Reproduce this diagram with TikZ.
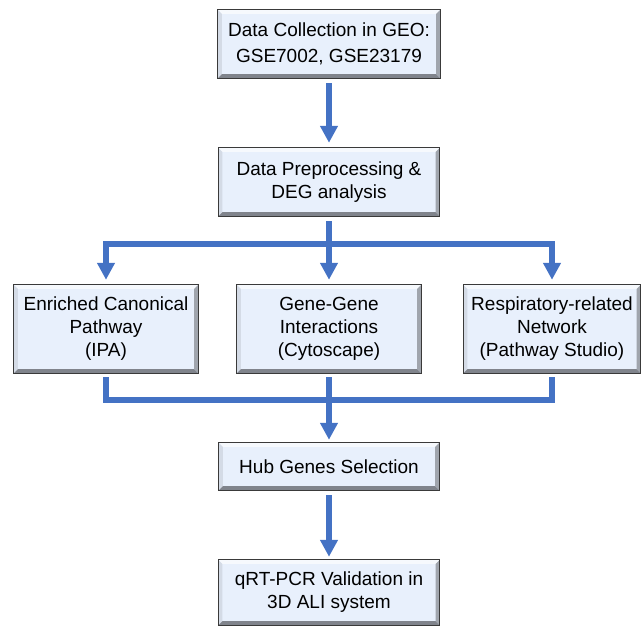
\documentclass[tikz,border=0pt]{standalone}
\usepackage{fontspec}
\setmainfont{Liberation Sans}
\usetikzlibrary{arrows.meta,calc}
\definecolor{boxfill}{RGB}{232,240,252}
\definecolor{bevT}{RGB}{246,249,253}
\definecolor{bevL}{RGB}{212,219,230}
\definecolor{bevR}{RGB}{160,165,173}
\definecolor{bevB}{RGB}{128,132,140}
\definecolor{bord}{RGB}{58,58,58}
\definecolor{flow}{RGB}{68,114,196}
\tikzset{
  flowbox/.style={fill=boxfill, draw=none, align=center, inner sep=0pt,
    font=\fontsize{19}{23}\selectfont},
  conn/.style={draw=flow, line width=6pt, line join=miter},
  arr/.style={conn, -{Triangle[width=17pt,length=17pt]}},
}
\newcommand\bev[1]{%
  \fill[bevT] (#1.north west) -- (#1.north east) -- ($(#1.north east)+(-4,4)$) -- ($(#1.north west)+(4,4)$) -- cycle;
  \fill[bevL] (#1.north west) -- ($(#1.north west)+(4,4)$) -- ($(#1.south west)+(4,-4)$) -- (#1.south west) -- cycle;
  \fill[bevR] (#1.north east) -- ($(#1.north east)+(-4,4)$) -- ($(#1.south east)+(-4,-4)$) -- (#1.south east) -- cycle;
  \fill[bevB] (#1.south west) -- ($(#1.south west)+(4,-4)$) -- ($(#1.south east)+(-4,-4)$) -- (#1.south east) -- cycle;
  \draw[bord, line width=1.3pt] (#1.north west) rectangle (#1.south east);
}
\begin{document}
\begin{tikzpicture}[x=1pt,y=-1pt]
\useasboundingbox (0,0) rectangle (641,627);
\node[flowbox, minimum width=222pt, minimum height=68pt, font=\fontsize{19}{26}\selectfont] (n1) at (329,44) {Data Collection in GEO:\\GSE7002, GSE23179};
\node[flowbox, minimum width=221pt, minimum height=68pt] (n2) at (329,182) {Data Preprocessing \&\\DEG analysis};
\node[flowbox, minimum width=184pt, minimum height=88pt] (a) at (106,329) {Enriched Canonical\\Pathway\\(IPA)};
\node[flowbox, minimum width=184pt, minimum height=88pt] (b) at (329,329) {Gene-Gene\\Interactions\\(Cytoscape)};
\node[flowbox, minimum width=177pt, minimum height=88pt] (c) at (552,329) {Respiratory-related\\Network\\(Pathway Studio)};
\node[flowbox, minimum width=220pt, minimum height=47pt] (hub) at (329,466.5) {Hub Genes Selection};
\node[flowbox, minimum width=221pt, minimum height=65pt] (q) at (329,592.5) {qRT-PCR Validation in\\3D ALI system};
\bev{n1}\bev{n2}\bev{a}\bev{b}\bev{c}\bev{hub}\bev{q}
\coordinate (j1) at (329,244);
\coordinate (j2) at (329,400);
\draw[arr, shorten <=5pt, shorten >=5pt] (n1) -- (n2);
\draw[conn, shorten <=5pt] (n2.south) -- (j1);
\draw[arr, shorten >=5pt] (j1) -| (a.north);
\draw[arr, shorten >=5pt] (j1) -| (c.north);
\draw[arr, shorten >=5pt] (j1) -- (b.north);
\draw[conn, shorten <=4pt] (a.south) |- (j2);
\draw[conn, shorten <=4pt] (c.south) |- (j2);
\draw[arr, shorten <=4pt, shorten >=3pt] (b.south) -- (hub.north);
\draw[arr, shorten <=5pt, shorten >=3pt] (hub) -- (q);
\end{tikzpicture}
\end{document}
